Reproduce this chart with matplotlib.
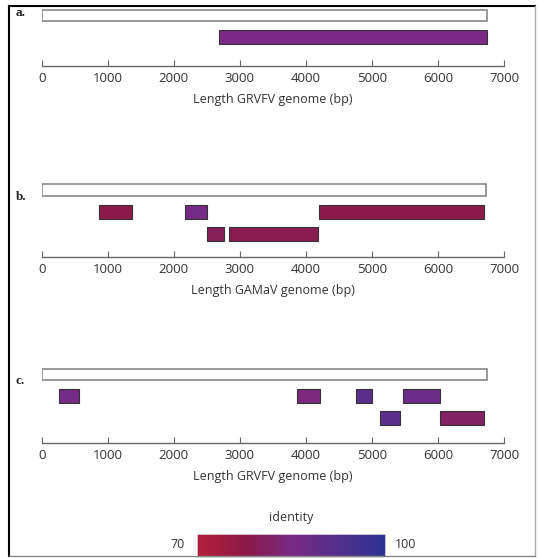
import numpy as np
import matplotlib
matplotlib.use("Agg")
import matplotlib.pyplot as plt
from matplotlib.colors import LinearSegmentedColormap, Normalize
from matplotlib.lines import Line2D

plt.rcParams['font.family'] = ['Open Sans', 'DejaVu Sans']

# --- data (bp positions, row index, % identity) ---
genome_a = 6740
a_start = [2684]
a_end = [6740]
a_row = [1]
a_ident = [85]

genome_b = 6720
b_start = [872, 2170, 4203, 2503, 2831]
b_end = [1372, 2498, 6697, 2760, 4188]
b_row = [1, 1, 1, 2, 2]
b_ident = [78, 86, 78, 80, 79]

genome_c = 6740
c_start = [267, 3865, 4759, 5475, 5122, 6030]
c_end = [565, 4209, 5005, 6030, 5424, 6701]
c_row = [1, 1, 1, 1, 2, 2]
c_ident = [86, 84, 91, 88, 91, 81]

xlabels = ['Length GRVFV genome (bp)', 'Length GAMaV genome (bp)', 'Length GRVFV genome (bp)']
panel_tags = ['a.', 'b.', 'c.']
xticks = [0, 1000, 2000, 3000, 4000, 5000, 6000, 7000]

W, H = 540, 558
cmap = LinearSegmentedColormap.from_list(
    'ident', [(0.0, '#b4203a'), (0.27, '#8a1a4a'), (0.5, '#7a2a84'), (1.0, '#2c3494')])
norm = Normalize(70, 100)

fig = plt.figure(figsize=(W/100, H/100), dpi=100)

def rect(x0, y0, x1, y1):
    return [x0/W, 1 - y1/H, (x1 - x0)/W, (y1 - y0)/H]

# (top px, bottom/axis px, first-row px, row spacing px)
layout = [(5, 66, 15.5, 21.5), (180, 257, 190, 22.0), (364, 443, 374.5, 21.75)]
panels = [(genome_a, a_start, a_end, a_row, a_ident),
          (genome_b, b_start, b_end, b_row, b_ident),
          (genome_c, c_start, c_end, c_row, c_ident)]

for i, ((top, bot, r0, sp), (glen, st, en, rw, idn)) in enumerate(zip(layout, panels)):
    ax = fig.add_axes(rect(41.7, top, 504, bot))
    ax.set_xlim(0, 7000)
    ax.set_ylim((bot - r0)/sp, (top - r0)/sp)
    ax.barh(0, glen, left=0, height=0.55, color='white', edgecolor='#888888', lw=1.2)
    for s, e, r, v in zip(st, en, rw, idn):
        ax.barh(r, e - s, left=s, height=0.64, color=cmap(norm(v)), edgecolor='#333333', lw=0.8)
    for sp_name in ['top', 'left', 'right']:
        ax.spines[sp_name].set_visible(False)
    ax.spines['bottom'].set_color('#666666')
    ax.spines['bottom'].set_linewidth(1.0)
    ax.set_yticks([])
    ax.set_xticks(xticks)
    ax.tick_params(axis='x', direction='in', length=4, width=0.8, color='#666666',
                   labelsize=9.5, labelcolor='#333333', pad=4)
    ax.set_xlabel(xlabels[i], fontsize=9, color='#333333', labelpad=6)
    fig.text(16/W, 1 - (top + 8 + (i > 0) * 9)/H, panel_tags[i], fontsize=9.5,
             fontweight='bold', family=['Liberation Serif', 'DejaVu Serif'],
             color='#222222', ha='left', va='center')

# identity colour bar
cax = fig.add_axes(rect(197, 534, 385, 557))
cax.imshow(np.linspace(70, 100, 256)[None, :], aspect='auto', cmap=cmap, norm=norm,
           extent=[70, 100, 0, 1])
cax.set_xticks([]); cax.set_yticks([])
for s in cax.spines.values():
    s.set_color('#dddddd'); s.set_linewidth(0.6)
fig.text(291/W, 1 - 517/H, 'identity', fontsize=9, color='#333333', ha='center', va='center')
fig.text(178/W, 1 - 545/H, '70', fontsize=9, color='#333333', ha='center', va='center')
fig.text(406/W, 1 - 545/H, '100', fontsize=9, color='#333333', ha='center', va='center')

# frame around the figure
fig.add_artist(Line2D([8.5/W, 8.5/W], [1 - 5.5/H, 1 - 556/H], color='black', lw=1.5))
fig.add_artist(Line2D([8.5/W, 535/W], [1 - 5.5/H, 1 - 5.5/H], color='black', lw=1.5))
fig.add_artist(Line2D([535/W, 535/W], [1 - 5.5/H, 1 - 556/H], color='#aaaaaa', lw=1.0))
fig.add_artist(Line2D([8.5/W, 535/W], [1 - 556/H, 1 - 556/H], color='#888888', lw=1.0))

fig.savefig('out.png', dpi=100)
